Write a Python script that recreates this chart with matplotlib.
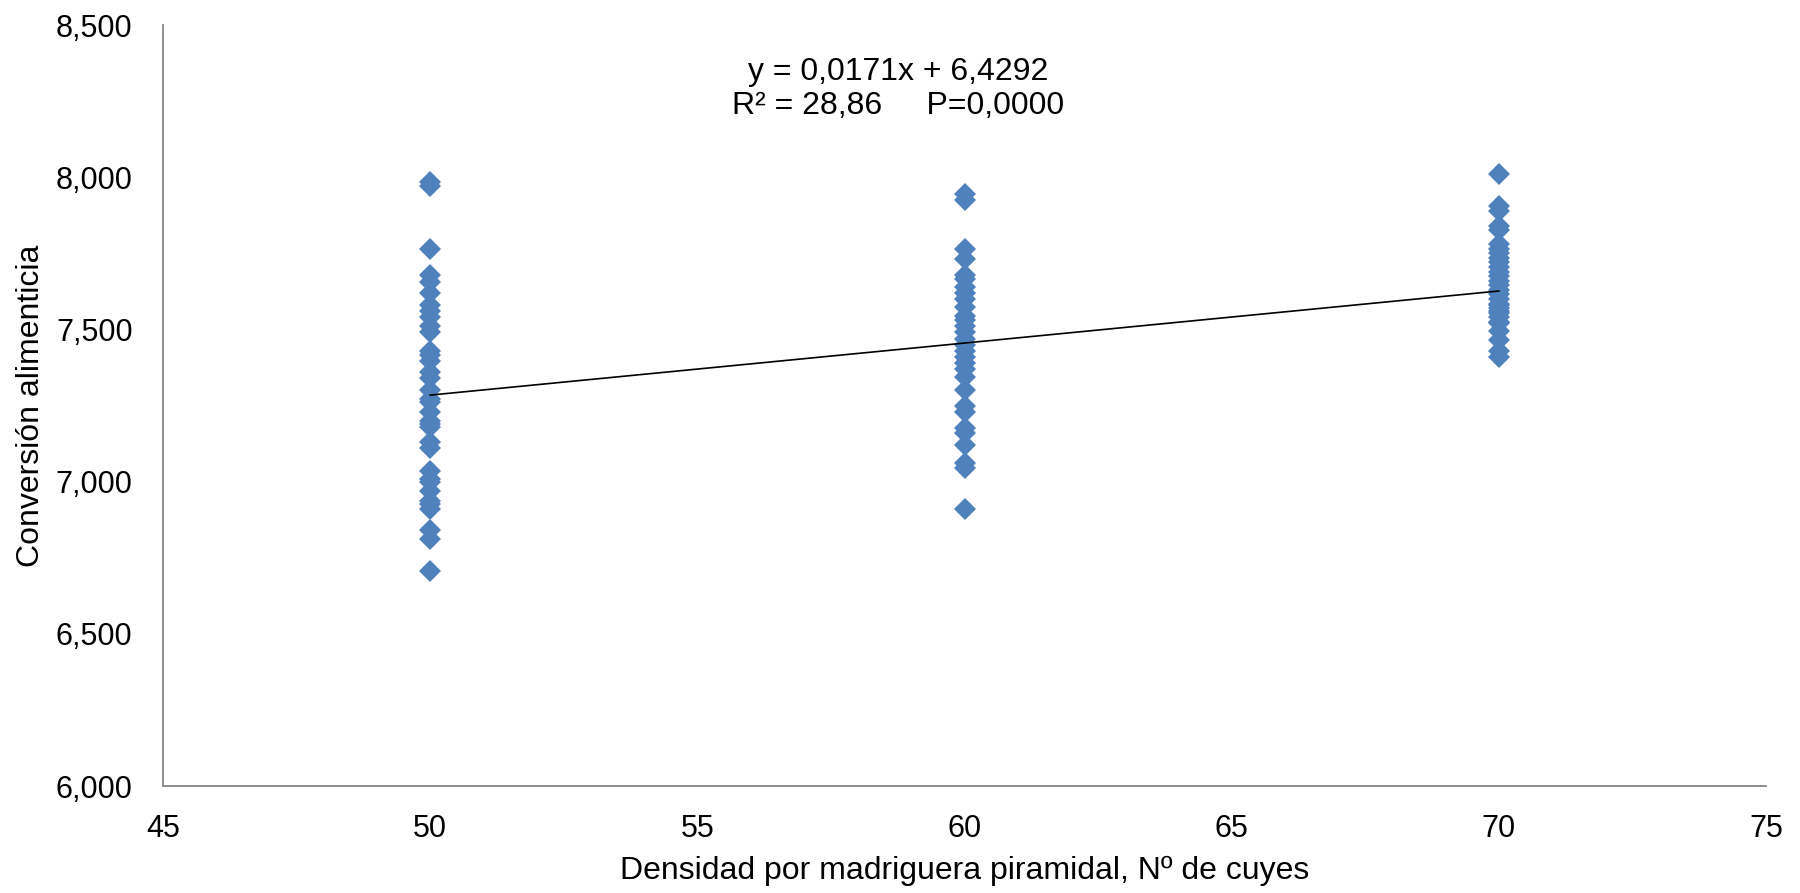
# Feed conversion vs. burrow density, with linear trend
import numpy as np
import matplotlib.pyplot as plt
from matplotlib.ticker import FuncFormatter, MultipleLocator

plt.rcParams.update({
    "font.family": ["Liberation Sans", "DejaVu Sans"],
    "font.size": 22,
})

# Observed feed conversion per density group
dens_50 = [7.985, 7.970, 7.765, 7.680, 7.655, 7.620, 7.580, 7.560, 7.540,
           7.510, 7.490, 7.430, 7.415, 7.395, 7.360, 7.340, 7.300, 7.270,
           7.260, 7.230, 7.200, 7.190, 7.180, 7.130, 7.110, 7.035, 7.010,
           7.000, 6.970, 6.935, 6.925, 6.910, 6.840, 6.810, 6.705]
dens_60 = [7.945, 7.925, 7.765, 7.730, 7.680, 7.665, 7.640, 7.620, 7.600,
           7.575, 7.545, 7.530, 7.510, 7.490, 7.470, 7.450, 7.430, 7.410,
           7.390, 7.370, 7.345, 7.300, 7.250, 7.230, 7.175, 7.160, 7.120,
           7.060, 7.045, 6.910]
dens_70 = [8.010, 7.905, 7.890, 7.840, 7.825, 7.780, 7.765, 7.750, 7.735,
           7.720, 7.705, 7.690, 7.675, 7.660, 7.645, 7.630, 7.615, 7.600,
           7.585, 7.580, 7.570, 7.560, 7.555, 7.540, 7.525, 7.520, 7.495,
           7.465, 7.430, 7.410]
groups = [50, 60, 70]

# Fitted line reported in the study
slope, intercept = 0.0171, 6.4292
eq_text = "y = 0,0171x + 6,4292\nR² = 28,86     P=0,0000"

x = np.concatenate([np.full(len(v), g) for g, v in zip(groups, [dens_50, dens_60, dens_70])])
y = np.concatenate([dens_50, dens_60, dens_70])

fig = plt.figure(figsize=(18, 8.93), dpi=100)
ax = fig.add_axes([0.0906, 0.1198, 0.8905, 0.8522])

ax.plot(x, y, linestyle="none", marker="D", markersize=11,
        color="#4F81BD", markeredgewidth=0, zorder=3)

xf = np.array([min(groups), max(groups)])
ax.plot(xf, slope * xf + intercept, color="black", linewidth=1.2, zorder=4)

ax.text(58.75, 8.29, eq_text, ha="center", va="center", fontsize=23,
        linespacing=1.2)

ax.set_xlim(45, 75)
ax.set_ylim(6.0, 8.5)
ax.xaxis.set_major_locator(MultipleLocator(5))
ax.yaxis.set_major_locator(MultipleLocator(0.5))
ax.yaxis.set_major_formatter(FuncFormatter(lambda v, p: f"{v:.3f}".replace(".", ",")))
ax.tick_params(axis="both", length=0, labelsize=22)
ax.tick_params(axis="x", pad=20)
ax.tick_params(axis="y", pad=22)

for side in ["top", "right"]:
    ax.spines[side].set_visible(False)
for side in ["left", "bottom"]:
    ax.spines[side].set_color("#868686")
    ax.spines[side].set_linewidth(1.3)

ax.set_xlabel("Densidad por madriguera piramidal, Nº de cuyes", fontsize=23, labelpad=9)
ax.set_ylabel("Conversión alimenticia", fontsize=23, labelpad=7)

fig.savefig("out.png", dpi=100)
